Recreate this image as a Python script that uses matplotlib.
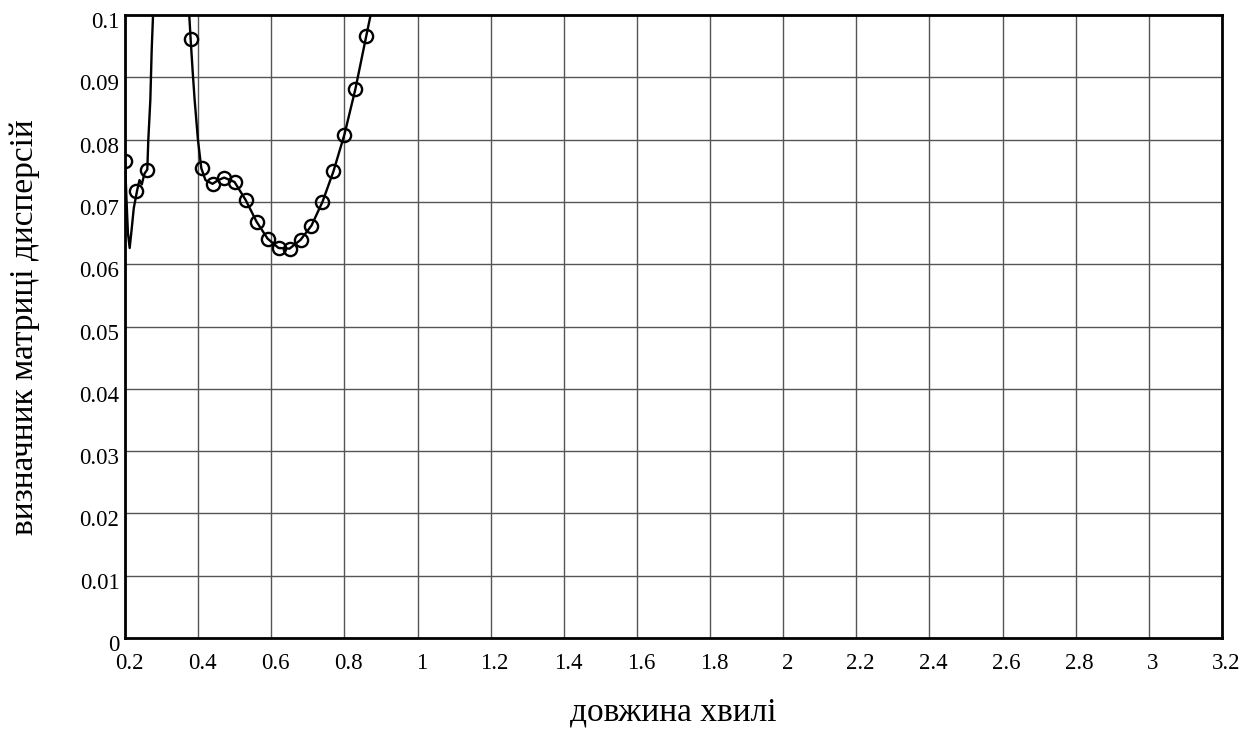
import matplotlib
matplotlib.use("Agg")
import matplotlib.pyplot as plt
import matplotlib.transforms as mtransforms

# ---- data ----
marker_x = [0.20, 0.23, 0.26, 0.38, 0.41, 0.44, 0.47, 0.50, 0.53, 0.56, 0.59,
            0.62, 0.65, 0.68, 0.71, 0.74, 0.77, 0.80, 0.83, 0.86]
marker_y = [0.0766, 0.0718, 0.0752, 0.0961, 0.0754, 0.0729, 0.0739, 0.0732,
            0.0703, 0.0668, 0.0641, 0.0626, 0.0625, 0.0639, 0.0662, 0.0700,
            0.0749, 0.0808, 0.0881, 0.0967]

line_x = [0.200, 0.204, 0.208, 0.2128, 0.218, 0.224, 0.233, 0.2396, 0.2459,
          0.2530, 0.261, 0.2637, 0.2693, 0.273, 0.2767, 0.282, 0.290, 0.360,
          0.3757, 0.3795, 0.385, 0.3904, 0.3996, 0.4087, 0.420, 0.4394, 0.455,
          0.4712, 0.4995, 0.53, 0.56, 0.59, 0.62, 0.65, 0.68, 0.71, 0.74, 0.77,
          0.80, 0.83, 0.86, 0.8717, 0.880]
line_y = [0.0766, 0.0705, 0.0650, 0.0626, 0.0655, 0.0690, 0.0718, 0.0735,
          0.0728, 0.0745, 0.0752, 0.0799, 0.0864, 0.0944, 0.1000, 0.1150,
          0.1500, 0.1300, 0.1000, 0.0961, 0.0910, 0.0864, 0.0799, 0.0754,
          0.0735, 0.0729, 0.0735, 0.0739, 0.0732, 0.0703, 0.0668, 0.0641,
          0.0626, 0.0625, 0.0639, 0.0662, 0.0700, 0.0749, 0.0808, 0.0881,
          0.0967, 0.1000, 0.1060]

x_ticks = [0.2, 0.4, 0.6, 0.8, 1.0, 1.2, 1.4, 1.6, 1.8, 2.0, 2.2, 2.4, 2.6, 2.8, 3.0, 3.2]
x_tick_labels = ["0.2", "0.4", "0.6", "0.8", "1", "1.2", "1.4", "1.6", "1.8",
                 "2", "2.2", "2.4", "2.6", "2.8", "3", "3.2"]
y_ticks = [0, 0.01, 0.02, 0.03, 0.04, 0.05, 0.06, 0.07, 0.08, 0.09, 0.1]
y_tick_labels = ["0", "0.01", "0.02", "0.03", "0.04", "0.05", "0.06", "0.07",
                 "0.08", "0.09", "0.1"]

x_label = "довжина хвилі"
y_label = "визначник матриці дисперсій"

# ---- figure ----
plt.rcParams['font.family'] = ['Liberation Serif', 'DejaVu Serif']
fig = plt.figure(figsize=(12.59, 7.33), dpi=100)
ax = fig.add_axes([125 / 1259, 1 - 638 / 733, (1222 - 125) / 1259, (638 - 15) / 733])

ax.plot(line_x, line_y, color='black', lw=1.7, zorder=3)
ax.plot(marker_x, marker_y, linestyle='none', marker='o', markersize=9.5,
        markerfacecolor='none', markeredgecolor='black', markeredgewidth=1.7,
        zorder=4)

ax.set_xlim(0.2, 3.2)
ax.set_ylim(0, 0.1)
ax.set_xticks(x_ticks)
ax.set_xticklabels(x_tick_labels)
ax.set_yticks(y_ticks)
ax.set_yticklabels(y_tick_labels)
ax.tick_params(axis='both', length=0, labelsize=16.5, colors='black')
ax.tick_params(axis='x', pad=11)
ax.tick_params(axis='y', pad=4)

# shift y tick labels slightly down as in the reference
off = mtransforms.ScaledTranslation(0, -5 / 100, fig.dpi_scale_trans)
for lab in ax.get_yticklabels():
    lab.set_transform(lab.get_transform() + off)
offx = mtransforms.ScaledTranslation(4 / 100, 0, fig.dpi_scale_trans)
for lab in ax.get_xticklabels():
    lab.set_transform(lab.get_transform() + offx)

ax.grid(True, color='#555555', lw=1.0)
ax.set_axisbelow(True)
for s in ax.spines.values():
    s.set_linewidth(2.0)
    s.set_color('black')

fig.text((125 + 1222) / 2 / 1259, 1 - 712 / 733, x_label, ha='center', va='center',
         fontsize=24)
fig.text(25 / 1259, 1 - 327 / 733, y_label, ha='center', va='center',
         rotation=90, fontsize=24)

fig.savefig("out.png", dpi=100)
